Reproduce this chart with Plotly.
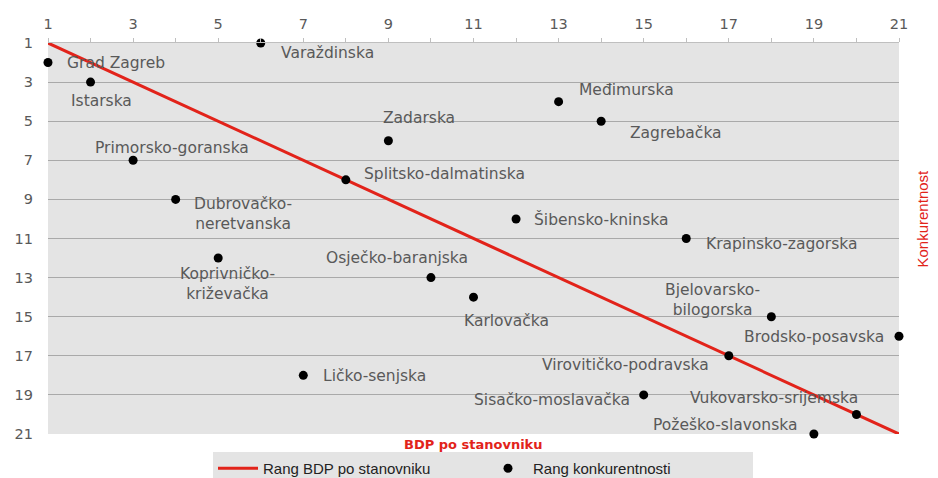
import plotly.graph_objects as go

regions = ["Grad Zagreb", "Varaždinska", "Istarska", "Međimurska", "Zagrebačka",
           "Zadarska", "Primorsko-goranska", "Splitsko-dalmatinska",
           "Dubrovačko-<br>neretvanska", "Šibensko-kninska", "Krapinsko-zagorska",
           "Koprivničko-<br>križevačka", "Osječko-baranjska", "Karlovačka",
           "Bjelovarsko-<br>bilogorska", "Brodsko-posavska", "Virovitičko-podravska",
           "Ličko-senjska", "Sisačko-moslavačka", "Vukovarsko-srijemska",
           "Požeško-slavonska"]
bdp_rank = [1, 6, 2, 13, 14, 9, 3, 8, 4, 12, 16, 5, 10, 11, 18, 21, 17, 7, 15, 20, 19]
konk_rank = [2, 1, 3, 4, 5, 6, 7, 8, 9, 10, 11, 12, 13, 14, 15, 16, 17, 18, 19, 20, 21]
tick_vals = [1, 3, 5, 7, 9, 11, 13, 15, 17, 19, 21]

# label placement styles: (xanchor, xshift px, yshift px)
label_style = [
    ("left", 17, 0), ("left", 18, -10), ("center", 11, -19), ("left", 18, 12),
    ("left", 27, -12), ("center", 31, 23), ("center", 39, 12), ("left", 16, 6),
    ("left", 16, -15), ("left", 16, -1), ("left", 18, -5), ("center", 9, -26),
    ("center", -34, 20), ("center", 33, -24), ("center", -59, 17), ("right", -13, -1),
    ("right", -18, -9), ("left", 18, -1), ("right", -12, -5), ("center", -82, 16),
    ("right", -15, 9),
]

line_x = sorted(bdp_rank)
line_y = sorted(bdp_rank)

RED = "#e2231a"
GREY_TXT = "#595959"
LBL_FONT = "DejaVu Sans"
NARROW = "Liberation Sans Narrow, Liberation Sans"

fig = go.Figure()
fig.add_trace(go.Scatter(
    x=line_x, y=line_y, mode="lines", name="Rang BDP po stanovniku",
    line=dict(color=RED, width=3), cliponaxis=False,
))
fig.add_trace(go.Scatter(
    x=bdp_rank, y=konk_rank, mode="markers", name="Rang konkurentnosti",
    marker=dict(color="black", size=9), cliponaxis=False,
))

for name, xv, yv, (anc, dx, dy) in zip(regions, bdp_rank, konk_rank, label_style):
    fig.add_annotation(
        x=xv, y=yv, text=name, showarrow=False, xanchor=anc, yanchor="middle",
        xshift=dx, yshift=dy, align="center",
        font=dict(family=LBL_FONT, size=15.5, color=GREY_TXT),
    )

fig.add_annotation(
    x=0.5, y=0, xref="paper", yref="paper", yanchor="top", yshift=-1,
    text="<b>BDP po stanovniku</b>", showarrow=False,
    font=dict(family=LBL_FONT, size=13, color=RED),
)
fig.add_annotation(
    x=(932 - 48) / 851, y=1 - (218 - 43) / 391, xref="paper", yref="paper",
    textangle=-90, text="Konkurentnost", showarrow=False,
    font=dict(family=NARROW, size=15, color=RED),
)

fig.update_layout(
    width=938, height=478,
    margin=dict(l=48, r=39, t=43, b=44),
    paper_bgcolor="white", plot_bgcolor="#e4e4e4",
    showlegend=True,
    legend=dict(
        orientation="h", x=483 / 938, xanchor="center", xref="container",
        y=(478 - 452) / 478, yanchor="top", yref="container",
        bgcolor="#e4e4e4",
        font=dict(family=NARROW, size=15, color="#222"),
        entrywidth=215, itemwidth=40, tracegroupgap=0,
    ),
    xaxis=dict(
        side="top", range=[1, 21], tickvals=tick_vals, showgrid=False, zeroline=False,
        showline=True, linecolor="#bfbfbf", linewidth=1, automargin=False,
        ticks="outside", ticklen=4, tickcolor="#bfbfbf", ticklabelstandoff=3,
        minor=dict(dtick=1, tick0=1, ticks="outside", ticklen=4, tickcolor="#bfbfbf"),
        tickfont=dict(family=LBL_FONT, size=14.5, color=GREY_TXT),
    ),
    yaxis=dict(
        range=[21, 1], tickvals=tick_vals, showgrid=True, gridcolor="#a9a9a9", gridwidth=1,
        zeroline=False, showline=False, ticks="", automargin=False, ticklabelstandoff=14,
        tickfont=dict(family=LBL_FONT, size=14.5, color=GREY_TXT),
    ),
)

fig.write_html("out.html", config={"displayModeBar": False},
               post_script="document.body.style.margin='0';")
